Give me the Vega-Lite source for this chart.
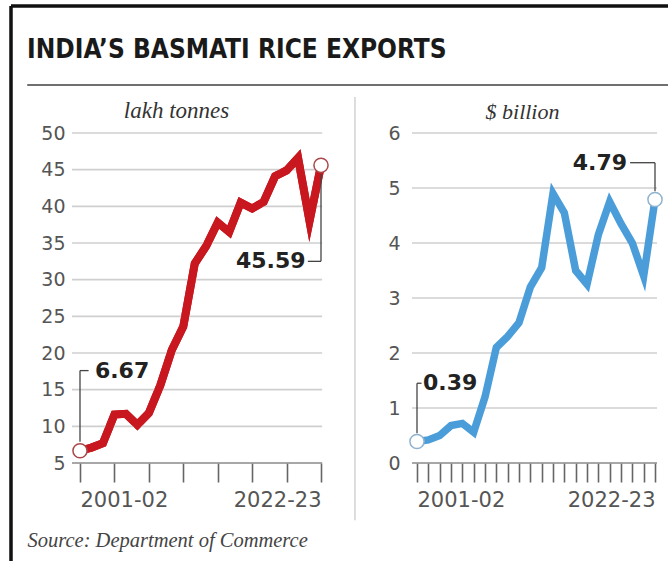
{
  "$schema": "https://vega.github.io/schema/vega-lite/v6.json",
  "width": 657,
  "height": 555,
  "autosize": {"type": "none"},
  "padding": {"left": 11, "top": 6, "right": 0, "bottom": 0},
  "background": "white",
  "config": {
    "view": {"stroke": "#111111", "strokeWidth": 3.5, "strokeDash": [657, 1212, 555, 0]},
    "axis": {"domain": false, "grid": false, "labelFont": "DejaVu Sans", "labelColor": "#555555"}
  },
  "title": {
    "text": "INDIA’S BASMATI RICE EXPORTS",
    "anchor": "start",
    "frame": "group",
    "offset": -57,
    "dx": 16,
    "font": "Liberation Sans Narrow, DejaVu Sans Condensed, Roboto Condensed, Roboto, sans-serif",
    "fontWeight": "bold",
    "fontSize": 26,
    "color": "#1a1a1a"
  },
  "datasets": {
    "exports": [
      {"fy": "2001-02", "yr": 2001, "volume": 6.67, "value": 0.39},
      {"fy": "2002-03", "yr": 2002, "volume": 7.1, "value": 0.42},
      {"fy": "2003-04", "yr": 2003, "volume": 7.7, "value": 0.5},
      {"fy": "2004-05", "yr": 2004, "volume": 11.6, "value": 0.68},
      {"fy": "2005-06", "yr": 2005, "volume": 11.7, "value": 0.72},
      {"fy": "2006-07", "yr": 2006, "volume": 10.2, "value": 0.56},
      {"fy": "2007-08", "yr": 2007, "volume": 11.8, "value": 1.2},
      {"fy": "2008-09", "yr": 2008, "volume": 15.6, "value": 2.1},
      {"fy": "2009-10", "yr": 2009, "volume": 20.4, "value": 2.3},
      {"fy": "2010-11", "yr": 2010, "volume": 23.6, "value": 2.55},
      {"fy": "2011-12", "yr": 2011, "volume": 32.2, "value": 3.2},
      {"fy": "2012-13", "yr": 2012, "volume": 34.6, "value": 3.55},
      {"fy": "2013-14", "yr": 2013, "volume": 37.8, "value": 4.9},
      {"fy": "2014-15", "yr": 2014, "volume": 36.5, "value": 4.55},
      {"fy": "2015-16", "yr": 2015, "volume": 40.5, "value": 3.5},
      {"fy": "2016-17", "yr": 2016, "volume": 39.7, "value": 3.25},
      {"fy": "2017-18", "yr": 2017, "volume": 40.6, "value": 4.15},
      {"fy": "2018-19", "yr": 2018, "volume": 44.1, "value": 4.75},
      {"fy": "2019-20", "yr": 2019, "volume": 44.9, "value": 4.35},
      {"fy": "2020-21", "yr": 2020, "volume": 46.6, "value": 4.0},
      {"fy": "2021-22", "yr": 2021, "volume": 38.0, "value": 3.4},
      {"fy": "2022-23", "yr": 2022, "volume": 45.59, "value": 4.79}
    ],
    "gridLeft": [{"g": 5}, {"g": 10}, {"g": 15}, {"g": 20}, {"g": 25}, {"g": 30}, {"g": 35}, {"g": 40}, {"g": 45}, {"g": 50}],
    "gridRight": [{"g": 0}, {"g": 1}, {"g": 2}, {"g": 3}, {"g": 4}, {"g": 5}, {"g": 6}],
    "one": [{"k": 1}]
  },
  "layer": [
    {
      "layer": [
        {
          "data": {"name": "exports"},
          "mark": {"type": "line", "color": "#c8171e", "strokeWidth": 8, "strokeJoin": "miter", "strokeMiterLimit": 6},
          "encoding": {
            "x": {
              "field": "yr", "type": "quantitative",
              "scale": {"domain": [2001, 2022], "range": [69, 310], "nice": false, "zero": false},
              "axis": {
                "orient": "bottom", "offset": -98,
                "values": [2001, 2004, 2007, 2010, 2013, 2016, 2019, 2022], "tickCount": 30,
                "labelExpr": "datum.value == 2001 ? '2001-02' : datum.value == 2022 ? '2022-23' : ''",
                "labelFlush": true, "labelOverlap": false,
                "ticks": true, "tickSize": 19, "tickColor": "#666666", "tickWidth": 1.6,
                "labelFontSize": 21, "labelPadding": 7, "labelFont": "DejaVu Sans", "labelColor": "#555555",
                "domain": false, "grid": false,
                "title": "Source: Department of Commerce",
                "titleFont": "Liberation Serif", "titleFontStyle": "italic", "titleFontWeight": "normal",
                "titleFontSize": 20.5, "titleColor": "#444444",
                "titleAnchor": "start", "titleAlign": "left", "titleBaseline": "middle",
                "titleX": 16, "titleY": 77
              }
            },
            "y": {
              "field": "volume", "type": "quantitative",
              "scale": {"domain": [5, 50], "range": [457, 127], "nice": false, "zero": false},
              "axis": {
                "orient": "left", "offset": -54,
                "values": [5, 10, 15, 20, 25, 30, 35, 40, 45, 50], "tickCount": 30, "format": "d",
                "ticks": false, "labelPadding": 0, "labelFontSize": 19, "labelAlign": "right", "labelBaseline": "middle",
                "labelFont": "DejaVu Sans", "labelColor": "#555555",
                "domain": false, "grid": false,
                "title": "lakh tonnes", "titleAngle": 0, "titleX": 111, "titleY": 104,
                "titleAlign": "center", "titleBaseline": "middle",
                "titleFont": "Liberation Serif", "titleFontStyle": "italic", "titleFontWeight": "normal",
                "titleFontSize": 23, "titleColor": "#333333"
              }
            }
          }
        },
        {
          "data": {"name": "one"},
          "mark": {"type": "rule", "color": "#707070", "strokeWidth": 2},
          "encoding": {
            "x": {"datum": 1996.4},
            "x2": {"datum": 2056},
            "y": {"datum": 56.55}
          }
        },
        {
          "data": {"name": "one"},
          "mark": {"type": "rule", "color": "#d2d2d2", "strokeWidth": 1.5},
          "encoding": {
            "x": {"datum": 2024.96},
            "y": {"datum": 54.9},
            "y2": {"datum": -2.8}
          }
        },
        {
          "data": {"name": "gridLeft"},
          "mark": {"type": "rule", "strokeWidth": 1.6},
          "encoding": {
            "y": {"field": "g", "type": "quantitative"},
            "x": {"datum": 2000.3},
            "x2": {"datum": 2022.1},
            "color": {"condition": {"test": "datum.g == 5", "value": "#8a8a8a"}, "value": "#cfcfcf"}
          }
        },
        {
          "data": {"name": "exports"},
          "mark": {"type": "line", "color": "#c8171e", "strokeWidth": 8, "strokeJoin": "miter", "strokeMiterLimit": 6},
          "encoding": {
            "x": {"field": "yr", "type": "quantitative"},
            "y": {"field": "volume", "type": "quantitative"}
          }
        },
        {
          "data": {"name": "one"},
          "mark": {"type": "rule", "color": "#444444", "strokeWidth": 1.3},
          "encoding": {"x": {"datum": 2001}, "y": {"datum": 7.9}, "y2": {"datum": 17.6}}
        },
        {
          "data": {"name": "one"},
          "mark": {"type": "rule", "color": "#444444", "strokeWidth": 1.3},
          "encoding": {"x": {"datum": 2001}, "x2": {"datum": 2001.75}, "y": {"datum": 17.6}}
        },
        {
          "data": {"name": "one"},
          "mark": {"type": "rule", "color": "#444444", "strokeWidth": 1.3},
          "encoding": {"x": {"datum": 2022}, "y": {"datum": 44.4}, "y2": {"datum": 32.5}}
        },
        {
          "data": {"name": "one"},
          "mark": {"type": "rule", "color": "#444444", "strokeWidth": 1.3},
          "encoding": {"x": {"datum": 2020.85}, "x2": {"datum": 2022}, "y": {"datum": 32.5}}
        },
        {
          "data": {"name": "exports"},
          "transform": [{"filter": "datum.yr == 2001 || datum.yr == 2022"}],
          "mark": {"type": "point", "filled": true, "fill": "white", "stroke": "#a8484a", "strokeWidth": 1.5, "size": 200, "opacity": 1},
          "encoding": {
            "x": {"field": "yr", "type": "quantitative"},
            "y": {"field": "volume", "type": "quantitative"}
          }
        },
        {
          "data": {"name": "exports"},
          "transform": [{"filter": "datum.yr == 2001"}],
          "mark": {"type": "text", "font": "DejaVu Sans", "fontWeight": "bold", "fontSize": 22, "color": "#222222", "align": "left", "baseline": "middle"},
          "encoding": {
            "x": {"datum": 2002.3},
            "y": {"datum": 17.6},
            "text": {"field": "volume", "type": "quantitative", "format": ".2f"}
          }
        },
        {
          "data": {"name": "exports"},
          "transform": [{"filter": "datum.yr == 2022"}],
          "mark": {"type": "text", "font": "DejaVu Sans", "fontWeight": "bold", "fontSize": 22, "color": "#222222", "align": "right", "baseline": "middle"},
          "encoding": {
            "x": {"datum": 2020.65},
            "y": {"datum": 32.5},
            "text": {"field": "volume", "type": "quantitative", "format": ".2f"}
          }
        }
      ]
    },
    {
      "layer": [
        {
          "data": {"name": "gridRight"},
          "mark": {"type": "rule", "strokeWidth": 1.6},
          "encoding": {
            "y": {"field": "g", "type": "quantitative"},
            "x": {"datum": 2000.56},
            "x2": {"datum": 2022.18},
            "color": {"condition": {"test": "datum.g == 0", "value": "#8a8a8a"}, "value": "#cfcfcf"}
          }
        },
        {
          "data": {"name": "exports"},
          "mark": {"type": "line", "color": "#4a9dd9", "strokeWidth": 7.5, "strokeJoin": "miter", "strokeMiterLimit": 6},
          "encoding": {
            "x": {
              "field": "yr", "type": "quantitative",
              "scale": {"domain": [2001, 2022], "range": [406, 644], "nice": false, "zero": false},
              "axis": {
                "orient": "bottom", "offset": -98,
                "values": [2001, 2002, 2003, 2004, 2005, 2006, 2007, 2008, 2009, 2010, 2011, 2012, 2013, 2014, 2015, 2016, 2017, 2018, 2019, 2020, 2021, 2022],
                "tickCount": 30,
                "labelExpr": "datum.value == 2001 ? '2001-02' : datum.value == 2022 ? '2022-23' : ''",
                "labelFlush": true, "labelOverlap": false,
                "ticks": true, "tickSize": 19, "tickColor": "#666666", "tickWidth": 1.6,
                "labelFontSize": 21, "labelPadding": 7, "labelFont": "DejaVu Sans", "labelColor": "#555555",
                "domain": false, "grid": false, "title": ""
              }
            },
            "y": {
              "field": "value", "type": "quantitative",
              "scale": {"domain": [0, 6], "range": [457, 127], "nice": false, "zero": false},
              "axis": {
                "orient": "left", "offset": -389,
                "values": [0, 1, 2, 3, 4, 5, 6], "tickCount": 30, "format": "d",
                "ticks": false, "labelPadding": 0, "labelFontSize": 19, "labelAlign": "right", "labelBaseline": "middle",
                "labelFont": "DejaVu Sans", "labelColor": "#555555",
                "domain": false, "grid": false,
                "title": "$ billion", "titleAngle": 0, "titleX": 122, "titleY": 105,
                "titleAlign": "center", "titleBaseline": "middle",
                "titleFont": "Liberation Serif", "titleFontStyle": "italic", "titleFontWeight": "normal",
                "titleFontSize": 22, "titleColor": "#333333"
              }
            }
          }
        },
        {
          "data": {"name": "one"},
          "mark": {"type": "rule", "color": "#444444", "strokeWidth": 1.3},
          "encoding": {"x": {"datum": 2001}, "y": {"datum": 0.54}, "y2": {"datum": 1.45}}
        },
        {
          "data": {"name": "one"},
          "mark": {"type": "rule", "color": "#444444", "strokeWidth": 1.3},
          "encoding": {"x": {"datum": 2001}, "x2": {"datum": 2001.4}, "y": {"datum": 1.45}}
        },
        {
          "data": {"name": "one"},
          "mark": {"type": "rule", "color": "#444444", "strokeWidth": 1.3},
          "encoding": {"x": {"datum": 2022}, "y": {"datum": 4.94}, "y2": {"datum": 5.46}}
        },
        {
          "data": {"name": "one"},
          "mark": {"type": "rule", "color": "#444444", "strokeWidth": 1.3},
          "encoding": {"x": {"datum": 2019.8}, "x2": {"datum": 2022}, "y": {"datum": 5.46}}
        },
        {
          "data": {"name": "exports"},
          "transform": [{"filter": "datum.yr == 2001 || datum.yr == 2022"}],
          "mark": {"type": "point", "filled": true, "fill": "white", "stroke": "#8fb3cf", "strokeWidth": 1.5, "size": 200, "opacity": 1},
          "encoding": {
            "x": {"field": "yr", "type": "quantitative"},
            "y": {"field": "value", "type": "quantitative"}
          }
        },
        {
          "data": {"name": "exports"},
          "transform": [{"filter": "datum.yr == 2001"}],
          "mark": {"type": "text", "font": "DejaVu Sans", "fontWeight": "bold", "fontSize": 22, "color": "#222222", "align": "left", "baseline": "middle"},
          "encoding": {
            "x": {"datum": 2001.53},
            "y": {"datum": 1.45},
            "text": {"field": "value", "type": "quantitative", "format": ".2f"}
          }
        },
        {
          "data": {"name": "exports"},
          "transform": [{"filter": "datum.yr == 2022"}],
          "mark": {"type": "text", "font": "DejaVu Sans", "fontWeight": "bold", "fontSize": 22, "color": "#222222", "align": "right", "baseline": "middle"},
          "encoding": {
            "x": {"datum": 2019.53},
            "y": {"datum": 5.46},
            "text": {"field": "value", "type": "quantitative", "format": ".2f"}
          }
        }
      ]
    }
  ],
  "resolve": {
    "scale": {"x": "independent", "y": "independent"},
    "axis": {"x": "independent", "y": "independent"}
  }
}
